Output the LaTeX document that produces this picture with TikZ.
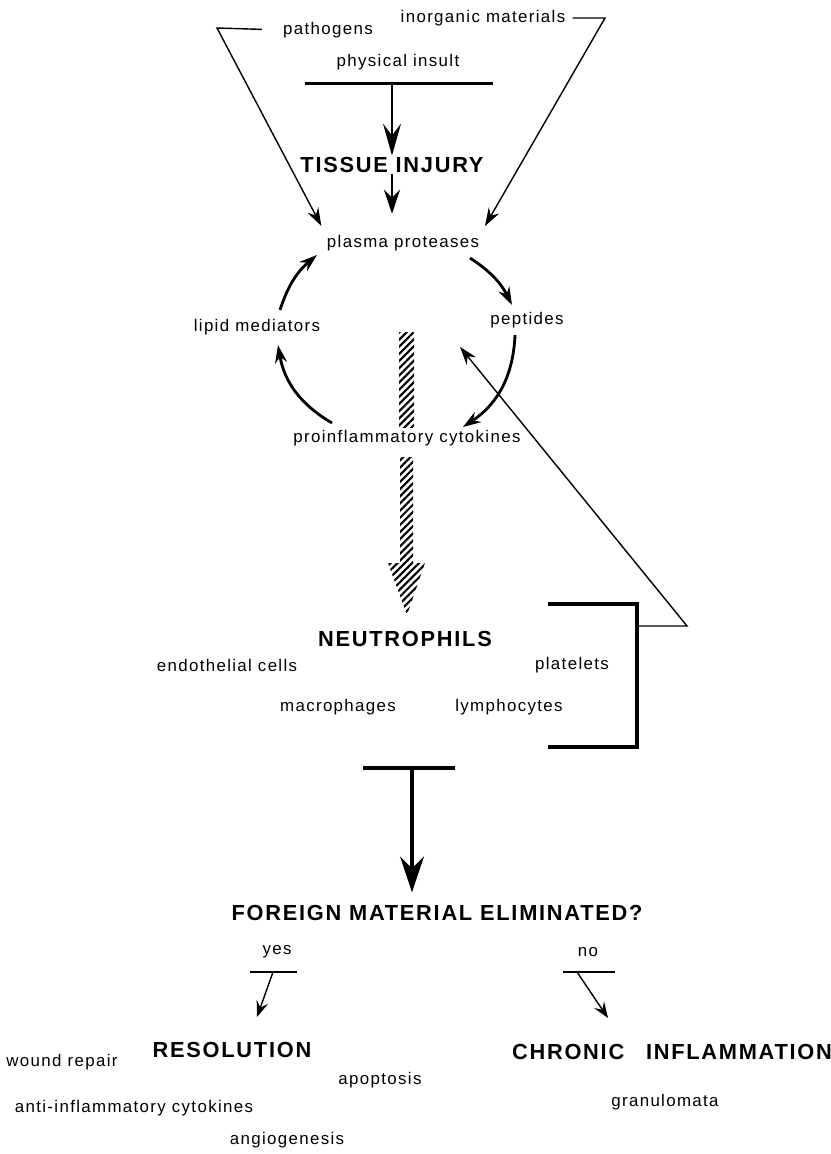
\documentclass[tikz,border=0pt]{standalone}
\usepackage{fontspec}
\setmainfont{Liberation Sans}[LetterSpace=8]
\usetikzlibrary{arrows.meta,calc,patterns.meta}

\begin{document}
\begin{tikzpicture}[
    x=0.025cm, y=0.025cm,
    >={Stealth[length=4.5mm,width=3mm,inset=1.5mm]},
    lbl/.style={inner sep=1pt, font=\fontsize{12}{14}\selectfont},
    head/.style={inner sep=1pt, font=\fontsize{15.5}{18}\selectfont\bfseries},
    thinline/.style={line width=1pt},
    cyc/.style={->, line width=2pt},
    bar/.style={line width=2.2pt},
    hatch/.style={pattern={Lines[angle=45,distance=3.6pt,line width=1.5pt]}}
    ]
    \useasboundingbox (0,0) rectangle (830,-1154);

    % insults
    \node[lbl] (pathogens) at (328,-30) {pathogens};
    \node[lbl] (inorganic) at (483,-18) {inorganic materials};
    \node[lbl] (insult) at (398,-62) {physical insult};
    \node[head] (injury) at (392,-165) {TISSUE INJURY};

    % cycle of mediators
    \node[lbl] (plasma) at (403,-243) {plasma proteases};
    \node[lbl] (lipid) at (257,-327) {lipid mediators};
    \node[lbl] (peptides) at (527,-320) {peptides};
    \node[lbl, fill=white] (cytokines) at (407,-438) {proinflammatory cytokines};

    % cells
    \node[head] (neutro) at (405,-639) {NEUTROPHILS};
    \node[lbl] (endo) at (227,-665) {endothelial cells};
    \node[lbl] (platelets) at (572,-665) {platelets};
    \node[lbl] (macro) at (338,-707) {macrophages};
    \node[lbl] (lympho) at (509,-707) {lymphocytes};

    % outcome
    \node[head] (foreign) at (437,-913) {FOREIGN MATERIAL ELIMINATED?};
    \node[lbl] (yes) at (277,-952) {yes};
    \node[lbl] (no) at (588,-952) {no};
    \node[head] (resolution) at (232,-1050) {RESOLUTION};
    \node[head] (chronic) at (672,-1052) {CHRONIC\quad INFLAMMATION};
    \node[lbl] (wound) at (62,-1062) {wound repair};
    \node[lbl] (apoptosis) at (380,-1080) {apoptosis};
    \node[lbl] (antiinfl) at (134,-1108) {anti-inflammatory cytokines};
    \node[lbl] (angio) at (287,-1140) {angiogenesis};
    \node[lbl] (granulo) at (665,-1102) {granulomata};

    % top connectors
    \coordinate (tl) at (217,-28);
    \coordinate (tr) at (605,-18);
    \draw[thinline, ->, shorten <=14pt, shorten >=6pt] (pathogens.west) -- (tl) -- (plasma.north west);
    \draw[thinline, ->, shorten <=4pt, shorten >=6pt] (inorganic.east) -- (tr) -- (plasma.north east);
    \draw[bar] ($(insult.south)+(-93,-12)$) coordinate (ibl) -- ($(insult.south)+(95,-12)$);
    \draw[->, line width=1.6pt, >={Stealth[length=8mm,width=4.5mm,inset=3mm]}]
      (injury.north |- ibl) -- (injury.north);
    \draw[->, line width=1.6pt, >={Stealth[length=6mm,width=4mm,inset=2mm]}, shorten >=14pt]
      (injury.south) -- (injury.south |- plasma.north);

    % cycle
    \draw[cyc] ($(lipid)+(23,17)$) to[bend left=16] ($(plasma)+(-86,-12)$);
    \draw[cyc] ($(plasma)+(67,-15)$) to[bend left=15] ($(peptides)+(-15,15)$);
    \draw[cyc] ($(peptides)+(-12,-15)$) to[bend left=27] ($(cytokines)+(56,11)$);
    \draw[cyc] ($(cytokines)+(-75,15)$) to[bend left=25] ($(lipid)+(21,-18)$);

    % hatched arrow to neutrophils
    \path[hatch] ($(cytokines)+(-8,105)$) rectangle ($(cytokines)+(7,11)$);
    \path[hatch] ($(cytokines)+(-7,-19)$) -- ($(cytokines)+(6,-19)$) -- ($(cytokines)+(6,-125)$)
      -- ($(cytokines)+(18,-125)$) -- ($(neutro)+(2,24)$) -- ($(cytokines)+(-19,-125)$)
      -- ($(cytokines)+(-7,-125)$) -- cycle;

    % bracket and feedback
    \draw[bar] (548,-604) -| (637,-747) coordinate (brb) -- (548,-747);
    \coordinate (fb) at (687,-626);
    \draw[thinline, ->] (637,-626) -- (fb) -- ($(peptides)+(-67,-27)$);

    % elimination
    \draw[bar] (363,-768) coordinate (tbl) -- (455,-768);
    \coordinate (tb) at (412,-768);
    \draw[->, line width=2.2pt, >={Stealth[length=9mm,width=6mm,inset=3mm]}, shorten >=8pt]
      (tb) -- (tb |- foreign.north);

    % yes / no
    \draw[thinline] ($(yes)+(-27,-20)$) -- ($(yes)+(20,-20)$);
    \draw[thinline, ->, >={Stealth[length=4mm,width=3mm,inset=1.5mm]}]
      ($(yes)+(-4,-20)$) -- ($(resolution)+(25,33)$);
    \draw[thinline] ($(no)+(-25,-20)$) -- ($(no)+(27,-20)$);
    \draw[thinline, ->, >={Stealth[length=4mm,width=3mm,inset=1.5mm]}]
      ($(no)+(-11,-20)$) -- ($(chronic)+(-64,34)$);
\end{tikzpicture}
\end{document}
